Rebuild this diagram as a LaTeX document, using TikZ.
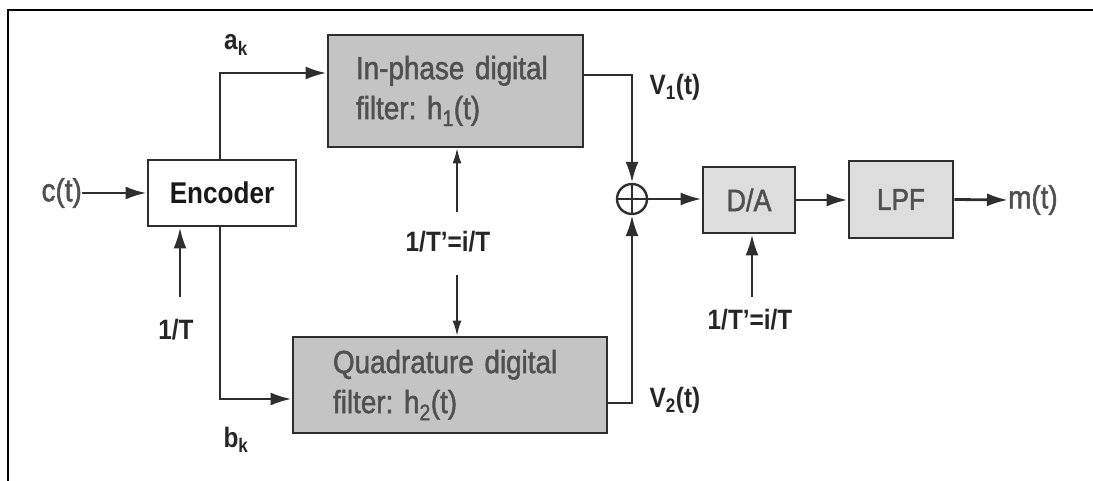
\documentclass[tikz,border=0pt]{standalone}
\usepackage{fontspec}
\setmainfont[FakeStretch=0.87]{Liberation Sans}
\newfontfamily\medfont[FakeStretch=0.87, FakeBold=1.5]{Liberation Sans}
\usetikzlibrary{arrows.meta,calc}
\definecolor{ln}{HTML}{2E2E2E}
\definecolor{txtg}{HTML}{505050}
\definecolor{dkfill}{HTML}{C4C4C4}
\definecolor{ltfill}{HTML}{DDDDDD}
\tikzset{
  box/.style={draw=ln, line width=2.8pt, rectangle, inner sep=0pt},
  boxtxt/.style={text=txtg, font=\medfont\frenchspacing\fontsize{32}{40}\selectfont},
  lbl/.style={text=black!85, font=\bfseries\fontsize{28}{30}\selectfont, inner sep=0pt},
  sig/.style={text=txtg, font=\medfont\fontsize{32}{34}\selectfont, inner sep=0pt},
  conn/.style={draw=ln, line width=2.8pt, -{Latex[length=21pt,width=13pt]}},
  thin/.style={draw=ln, line width=1.7pt, -{Latex[length=15pt,width=9pt]}},
}
\begin{document}
\begin{tikzpicture}[x=1pt,y=-1pt]
\useasboundingbox (0,0) rectangle (1093,481);
% frame
\draw[line width=2pt, black] (8,481) -- (8,10) -- (1093,10);
% boxes
\node[box, fill=white, minimum width=148pt, minimum height=66pt,
      font=\bfseries\fontsize{30}{32}\selectfont, text=black!90] (enc) at (222,193) {Encoder};
\node[box, boxtxt, fill=dkfill, minimum height=112pt, text width=199pt, inner xsep=28pt, align=left] (inph) at (455.5,91)
  {\fontsize{32}{41}\selectfont In-phase digital\\filter: h\textsubscript{1}(t)};
\node[box, boxtxt, fill=dkfill, minimum height=96pt, text width=234pt, inner xsep=40pt, align=left] (quad) at (450,385)
  {\fontsize{32}{38}\selectfont Quadrature digital\\filter: h\textsubscript{2}(t)};
\node[draw=ln, line width=2.4pt, circle, minimum size=30pt, inner sep=0pt] (sum) at (632,199) {};
\draw[ln, line width=2.4pt] (sum.north) -- (sum.south) (sum.west) -- (sum.east);
\node[box, boxtxt, fill=ltfill, minimum width=92pt, minimum height=66pt, font=\medfont\fontsize{31}{34}\selectfont] (da) at (749,200) {D/A};
\node[box, boxtxt, fill=ltfill, minimum width=104pt, minimum height=77pt, font=\medfont\fontsize{30}{34}\selectfont] (lpf) at (901,199.5) {LPF};
% signals
\node[sig, anchor=east] (ct) at (82,193) {c(t)};
\node[sig, anchor=west] (mt) at (1008,200) {m(t)};
% clocks
\node[lbl] (t1) at (176,330) {1/T};
\coordinate (t1top) at (180,297);
\node[lbl] (t2) at (448,242) {1/T’=i/T};
\coordinate (t2up) at (457,212);
\coordinate (t2dn) at (457,275);
\node[lbl] (t3) at (750,320) {1/T’=i/T};
\coordinate (t3top) at (752,297);
% labels
\node[lbl] (ak) at (236,45) {a\textsubscript{k}};
\node[lbl] (bk) at (236,440) {b\textsubscript{k}};
\node[lbl] (v1) at (675,87) {V\textsubscript{1}(t)};
\node[lbl] (v2) at (675,400) {V\textsubscript{2}(t)};
% connectors
\draw[conn] (ct.east) -- (ct.east -| enc.west);
\draw[conn] ([xshift=-2pt]enc.north) |- ([yshift=18pt]inph.west);
\draw[conn] ([xshift=-2pt]enc.south) |- ([yshift=-14pt]quad.west);
\draw[conn] (t1top) -- (t1top |- enc.south);
\draw[thin] (t2up) -- (t2up |- inph.south);
\draw[thin] (t2dn) -- (t2dn |- quad.north);
\draw[conn] ([yshift=16pt]inph.east) -| (sum.north);
\draw[conn] ([yshift=-18pt]quad.east) -| (sum.south);
\draw[conn] (sum.east) -- (sum.east -| da.west);
\draw[conn] (da.east) -- (da.east -| lpf.west);
\draw[conn] (lpf.east) -- (mt.west);
\draw[conn] (t3top) -- (t3top |- da.south);
\end{tikzpicture}
\end{document}
